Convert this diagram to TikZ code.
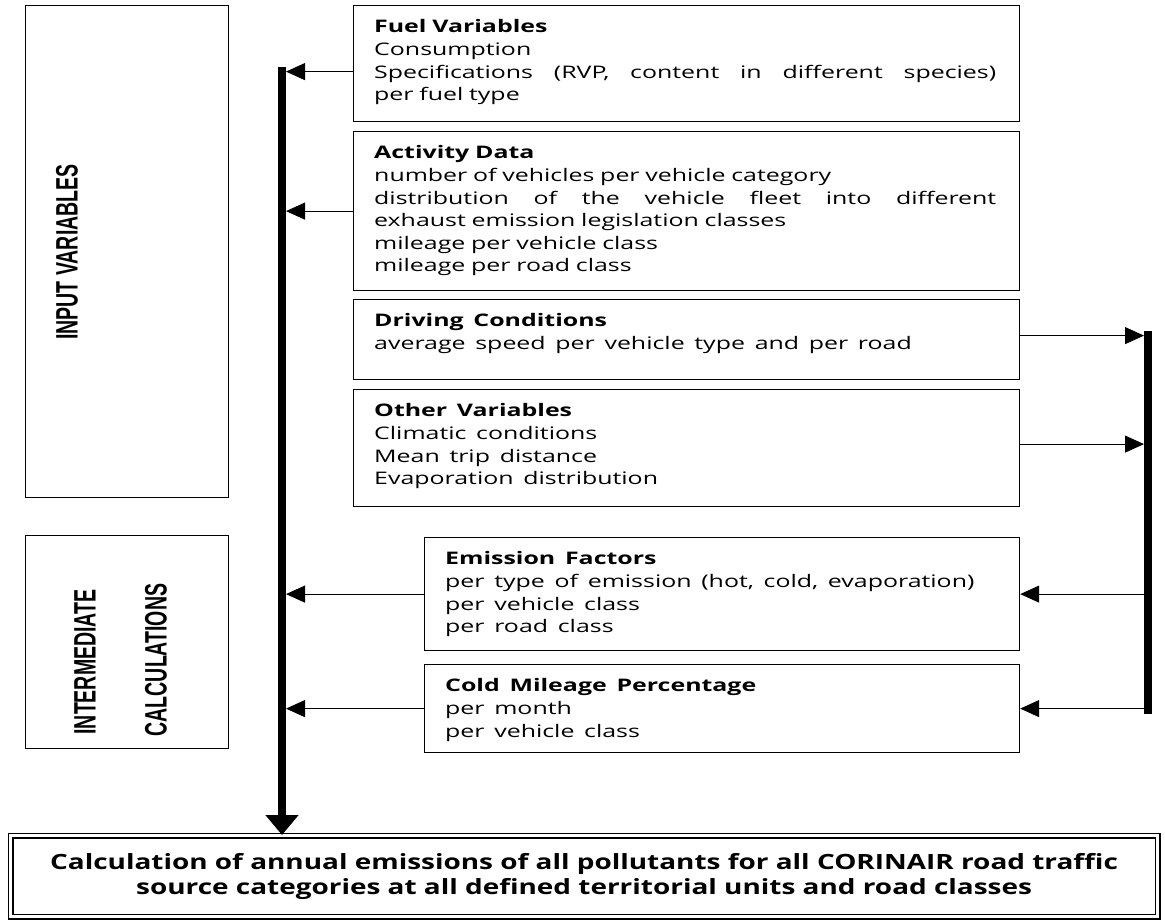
\documentclass[tikz,border=0pt]{standalone}
\usepackage{graphicx}
\usepackage{fontspec}
\setmainfont{Open Sans}
\newfontfamily\boxfont{Open Sans}[FakeStretch=1.44, WordSpace=1.5]
\newfontfamily\resultfont{Open Sans}[FakeStretch=1.33]
\newfontfamily\narrowfont{Liberation Sans}
\usepackage{tikz}
\usetikzlibrary{arrows.meta}

\tikzset{
  panel/.style={draw, line width=1.2pt, anchor=north west, inner sep=0pt},
  paneltext/.style={anchor=north west, align=left, inner xsep=21pt, inner ysep=14.5pt,
    font=\fontsize{17.3}{22.6}\selectfont\boxfont},
  feed/.style={line width=1pt, -{Triangle[length=19pt,width=17pt]}},
  bus/.style={line width=8pt},
  sidelabel/.style={rotate=90, inner sep=0pt, font=\fontsize{31}{31}\selectfont\narrowfont\bfseries},
}

\begin{document}
\begin{tikzpicture}[x=1pt,y=-1pt]
\useasboundingbox (0,0) rectangle (1165,919);

% Left frames
\node[panel, minimum width=203pt, minimum height=492pt] (inbox) at (25,5) {};
\node[panel, minimum width=203pt, minimum height=213pt] (calcbox) at (25,535) {};
\node[sidelabel] (inlab) at (67,252) {\scalebox{0.63}[1]{INPUT VARIABLES}};
\node[sidelabel] (calclab1) at (85,662) {\scalebox{0.63}[1]{INTERMEDIATE}};
\node[sidelabel] (calclab2) at (156,660) {\scalebox{0.63}[1]{CALCULATIONS}};

% Input boxes
\node[panel, minimum width=666pt, minimum height=116pt] (fuel) at (353,5) {};
\node[paneltext, text width=622pt] (fuel-t) at (fuel.north west) {%
  \textbf{Fuel Variables}\\
  Consumption\\
  \makebox[622pt][l]{Specifications\hfill(RVP,\hfill content\hfill in\hfill different\hfill species)}\\
  per fuel type};

\node[panel, minimum width=666pt, minimum height=159pt] (act) at (353,131) {};
\node[paneltext, text width=622pt] (act-t) at (act.north west) {%
  \textbf{Activity Data}\\
  number of vehicles per vehicle category\\
  \makebox[622pt][l]{distribution\hfill of\hfill the\hfill vehicle\hfill fleet\hfill into\hfill different}\\
  exhaust emission legislation classes\\
  mileage per vehicle class\\
  mileage per road class};

\node[panel, minimum width=666pt, minimum height=80pt] (drive) at (353,299) {};
\node[paneltext] (drive-t) at (drive.north west) {%
  \textbf{Driving Conditions}\\
  average speed per vehicle type and per road};

\node[panel, minimum width=666pt, minimum height=117pt] (other) at (353,389) {};
\node[paneltext] (other-t) at (other.north west) {%
  \textbf{Other Variables}\\
  Climatic conditions\\
  Mean trip distance\\
  Evaporation distribution};

% Intermediate boxes
\node[panel, minimum width=595pt, minimum height=113pt] (emis) at (424,537) {};
\node[paneltext] (emis-t) at (emis.north west) {%
  \textbf{Emission Factors}\\
  per type of emission (hot, cold, evaporation)\\
  per vehicle class\\
  per road class};

\node[panel, minimum width=595pt, minimum height=88pt] (cold) at (424,664) {};
\node[paneltext] (cold-t) at (cold.north west) {%
  \textbf{Cold Mileage Percentage}\\
  per month\\
  per vehicle class};

% Result
\node[panel, double, double distance=3.5pt, minimum width=1147pt, minimum height=81pt] (result) at (10,835) {};
\node[align=center, font=\fontsize{21}{25}\selectfont\resultfont\bfseries] (result-t) at (result.center)
  {Calculation of annual emissions of all pollutants for all CORINAIR road traffic\\
   source categories at all defined territorial units and road classes};

% Buses
\coordinate (busL) at (282,67);
\coordinate (busLe) at (286,67);
\coordinate (busR) at (1148,331);
\coordinate (busRb) at (1148,714);
\coordinate (busRe) at (1144,331);
\draw[bus, -{Triangle[length=20pt,width=32pt]}] (busL) -- (result.north -| busL);
\draw[bus] (busR) -- (busRb);

% Feeds to the left bus
\draw[feed] ([yshift=-8pt]fuel.west) -- ([yshift=-8pt]fuel.west -| busLe);
\draw[feed] (act.west) -- (act.west -| busLe);
\draw[feed] (emis.west) -- (emis.west -| busLe);
\draw[feed] (cold.west) -- (cold.west -| busLe);

% Feeds to and from the right bus
\draw[feed] ([yshift=4pt]drive.east) -- ([yshift=4pt]drive.east -| busRe);
\draw[feed] ([yshift=4pt]other.east) -- ([yshift=4pt]other.east -| busRe);
\draw[feed] (emis.east -| busR) -- (emis.east);
\draw[feed] (cold.east -| busR) -- (cold.east);
\end{tikzpicture}
\end{document}
